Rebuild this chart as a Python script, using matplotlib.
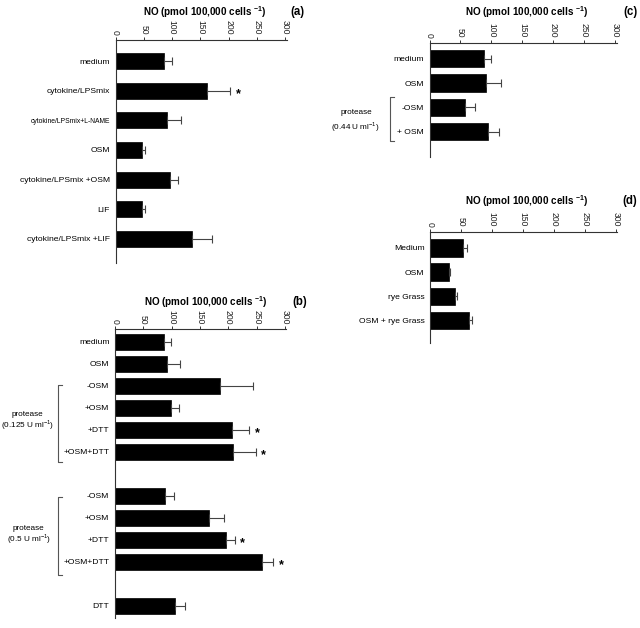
import matplotlib
matplotlib.use("Agg")
import matplotlib.pyplot as plt
from matplotlib.lines import Line2D

plt.rcParams['font.family'] = ['Liberation Sans', 'DejaVu Sans']
plt.rcParams['mathtext.fontset'] = 'custom'
plt.rcParams['mathtext.rm'] = 'Liberation Sans'
plt.rcParams['mathtext.bf'] = 'Liberation Sans:bold'

# ---------------- data ----------------
a_labels = ["medium", "cytokine/LPSmix", "cytokine/LPSmix+L-NAME", "OSM",
            "cytokine/LPSmix +OSM", "LIF", "cytokine/LPSmix +LIF"]
a_values = [86, 162, 91, 46, 96, 46, 135]
a_errors = [14, 40, 24, 6, 14, 6, 36]
a_star = [False, True, False, False, False, False, False]

b_labels = ["medium", "OSM", "-OSM", "+OSM", "+DTT", "+OSM+DTT",
            "-OSM", "+OSM", "+DTT", "+OSM+DTT", "DTT"]
b_pos = [0, 1, 2, 3, 4, 5, 7, 8, 9, 10, 12]
b_values = [86, 91, 185, 99, 206, 208, 88, 166, 196, 259, 106]
b_errors = [13, 24, 58, 14, 31, 40, 16, 27, 15, 20, 17]
b_star = [False, False, False, False, True, True, False, False, True, True, False]

c_labels = ["medium", "OSM", "-OSM", "+ OSM"]
c_values = [88, 91, 58, 95]
c_errors = [12, 25, 16, 17]

d_labels = ["Medium", "OSM", "rye Grass", "OSM + rye Grass"]
d_values = [53, 30, 41, 63]
d_errors = [6, 3, 3, 4]

x_ticks = [0, 50, 100, 150, 200, 250, 300]
title = r"NO (pmol 100,000 cells $^{\mathbf{-1}}$)"

W, H = 640, 628
fig = plt.figure(figsize=(W / 100, H / 100), dpi=100)
fig.patch.set_facecolor('white')


def rect(l, r, t, b):
    return [l / W, 1 - b / H, (r - l) / W, (b - t) / H]


def fx(px):
    return px / W


def fy(py):
    return 1 - py / H


axis_col = '#333333'


def panel(r, labels, values, errors, pos, ylim, height, stars=None):
    ax = fig.add_axes(r)
    ax.barh(pos, values, height=height, color='black', edgecolor='black', linewidth=0.5)
    ax.errorbar(values, pos, xerr=[[0] * len(values), errors], fmt='none',
                ecolor='#444444', elinewidth=0.8, capsize=3.2, capthick=0.8)
    ax.set_xlim(0, 302)
    ax.set_ylim(ylim[1], ylim[0])
    for s in ['right', 'bottom']:
        ax.spines[s].set_visible(False)
    for s in ['top', 'left']:
        ax.spines[s].set_color(axis_col)
        ax.spines[s].set_linewidth(0.8)
    ax.xaxis.tick_top()
    ax.set_xticks(x_ticks)
    ax.set_xticklabels([str(t) for t in x_ticks], rotation=-90, fontsize=6.2, color='#222222')
    ax.tick_params(axis='x', length=2.5, width=0.7, pad=1, color=axis_col)
    ax.set_yticks(pos)
    ax.set_yticklabels(labels, fontsize=6.1)
    ax.tick_params(axis='y', length=0, pad=4)
    if stars:
        for v, e, p, s in zip(values, errors, pos, stars):
            if s:
                ax.annotate('*', xy=(v + e, p), xytext=(4, -2.5), textcoords='offset points',
                            fontsize=9, fontweight='bold', ha='left', va='center')
    return ax


# panel (a)
ax_a = panel(rect(115.5, 286.6, 39.5, 263), a_labels, a_values, a_errors,
             list(range(len(a_labels))), (-0.725, 6.81), 0.54, a_star)
ax_a.get_yticklabels()[2].set_fontsize(4.9)

# panel (b)
panel(rect(115, 286.1, 329, 618), b_labels, b_values, b_errors,
      b_pos, (-0.59, 12.55), 0.73, b_star)
# panel (c)
panel(rect(429.5, 616.7, 42.5, 157), c_labels, c_values, c_errors,
      list(range(len(c_labels))), (-0.67, 4.05), 0.72)
# panel (d)
panel(rect(430, 617.2, 231.7, 343), d_labels, d_values, d_errors,
      list(range(len(d_labels))), (-0.67, 3.93), 0.72)

# titles and panel letters
for x, y in [(205, 12), (206, 302), (527, 12), (527, 201)]:
    fig.text(fx(x), fy(y), title, fontsize=7.1, fontweight='bold', ha='center', va='center')
for x, y, s in [(297, 12, '(a)'), (300, 302, '(b)'), (630, 12, '(c)'), (630, 201, '(d)')]:
    fig.text(fx(x), fy(y), s, fontsize=8.3, fontweight='bold', ha='center', va='center')


# brackets
def bracket(x, y0, y1):
    fig.add_artist(Line2D([fx(x + 4), fx(x), fx(x), fx(x + 4)],
                         [fy(y0), fy(y0), fy(y1), fy(y1)],
                         color='#555555', linewidth=0.8))


bracket(58, 385, 462)
bracket(58, 497, 575)
bracket(390, 97, 141)

for x, y, s in [(27, 414, 'protease'), (28, 425, r'(0.125 U ml$^{-1}$)'),
                (28, 528, 'protease'), (29, 538.5, r'(0.5 U ml$^{-1}$)'),
                (356, 112, 'protease'), (355.5, 126.5, r'(0.44 U ml$^{-1}$)')]:
    fig.text(fx(x), fy(y), s, fontsize=5.9, ha='center', va='center')

fig.savefig('out.png', dpi=100, facecolor='white')
